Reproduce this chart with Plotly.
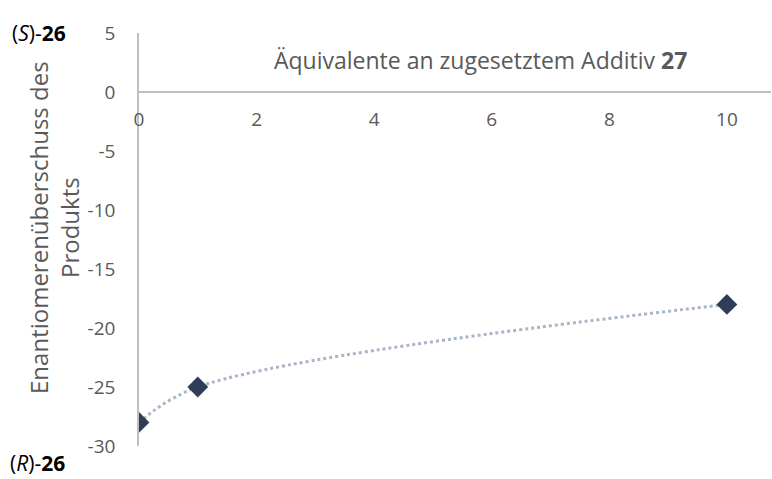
import plotly.graph_objects as go

# Equivalents of additive 27 vs. enantiomeric excess of product 26
equivalents = [0, 1, 10]
ee_values = [-28, -25, -18]

x_ticks = [0, 2, 4, 6, 8, 10]
y_ticks = [5, 0, -5, -10, -15, -20, -25, -30]
y_tick_text = ["5", "0", "-5", "-10", "-15", "-20", "-25", "-30"]

FONT = "Open Sans"
GREY_TEXT = "#595959"
AXIS_GREY = "#bfbfbf"

# Plot-area geometry in pixels
L, R, T, B = 139, 1, 33, 33
W, H = 772, 479
PW, PH = W - L - R, H - T - B


def px(xp):
    return (xp - L) / PW


def py(yp):
    return (H - B - yp) / PH


fig = go.Figure()

fig.add_trace(go.Scatter(
    x=equivalents,
    y=ee_values,
    mode="lines+markers",
    line=dict(shape="spline", smoothing=1.0, dash="dot", width=3, color="#a9b6c8"),
    marker=dict(symbol="diamond", size=16, color="#2f3e56"),
    showlegend=False,
))

fig.update_layout(
    width=W,
    height=H,
    margin=dict(l=L, r=R, t=T, b=B),
    paper_bgcolor="white",
    plot_bgcolor="white",
    font=dict(family=FONT, color=GREY_TEXT, size=19),
    xaxis=dict(
        range=[0, 10.75],
        tickvals=x_ticks,
        showgrid=False,
        zeroline=False,
        showline=True,
        linecolor=AXIS_GREY,
        linewidth=1.5,
        anchor="free",
        position=30 / 35,
        ticks="",
        ticklabelstandoff=10,
        tickfont=dict(size=19, color=GREY_TEXT),
    ),
    yaxis=dict(
        range=[-30, 5],
        tickvals=y_ticks,
        ticktext=y_tick_text,
        showgrid=False,
        zeroline=False,
        showline=True,
        linecolor=AXIS_GREY,
        linewidth=1.5,
        ticks="",
        ticklabelstandoff=18,
        tickfont=dict(size=19, color=GREY_TEXT),
    ),
)

# x-axis title inside the plot, above the axis line
fig.add_annotation(
    x=px(480), y=py(60), xref="paper", yref="paper",
    text="Äquivalente an zugesetztem Additiv <b>27</b>",
    showarrow=False, font=dict(size=23, color=GREY_TEXT, family=FONT),
    xanchor="center", yanchor="middle",
)

# y-axis title as two rotated lines
fig.add_annotation(
    x=px(54), y=py(228), xref="paper", yref="paper",
    text="Enantiomerenüberschuss des<br>Produkts",
    textangle=-90, showarrow=False,
    font=dict(size=24, color=GREY_TEXT, family=FONT),
    xanchor="center", yanchor="middle",
)

# End labels for the two enantiomers
fig.add_annotation(
    x=px(10), y=py(33), xref="paper", yref="paper",
    text="(<i>S</i>)-<b>26</b>", showarrow=False,
    font=dict(size=21, color="black", family=FONT),
    xanchor="left", yanchor="middle",
)
fig.add_annotation(
    x=px(8), y=py(463), xref="paper", yref="paper",
    text="(<i>R</i>)-<b>26</b>", showarrow=False,
    font=dict(size=21, color="black", family=FONT),
    xanchor="left", yanchor="middle",
)

fig.write_html("out.html")
